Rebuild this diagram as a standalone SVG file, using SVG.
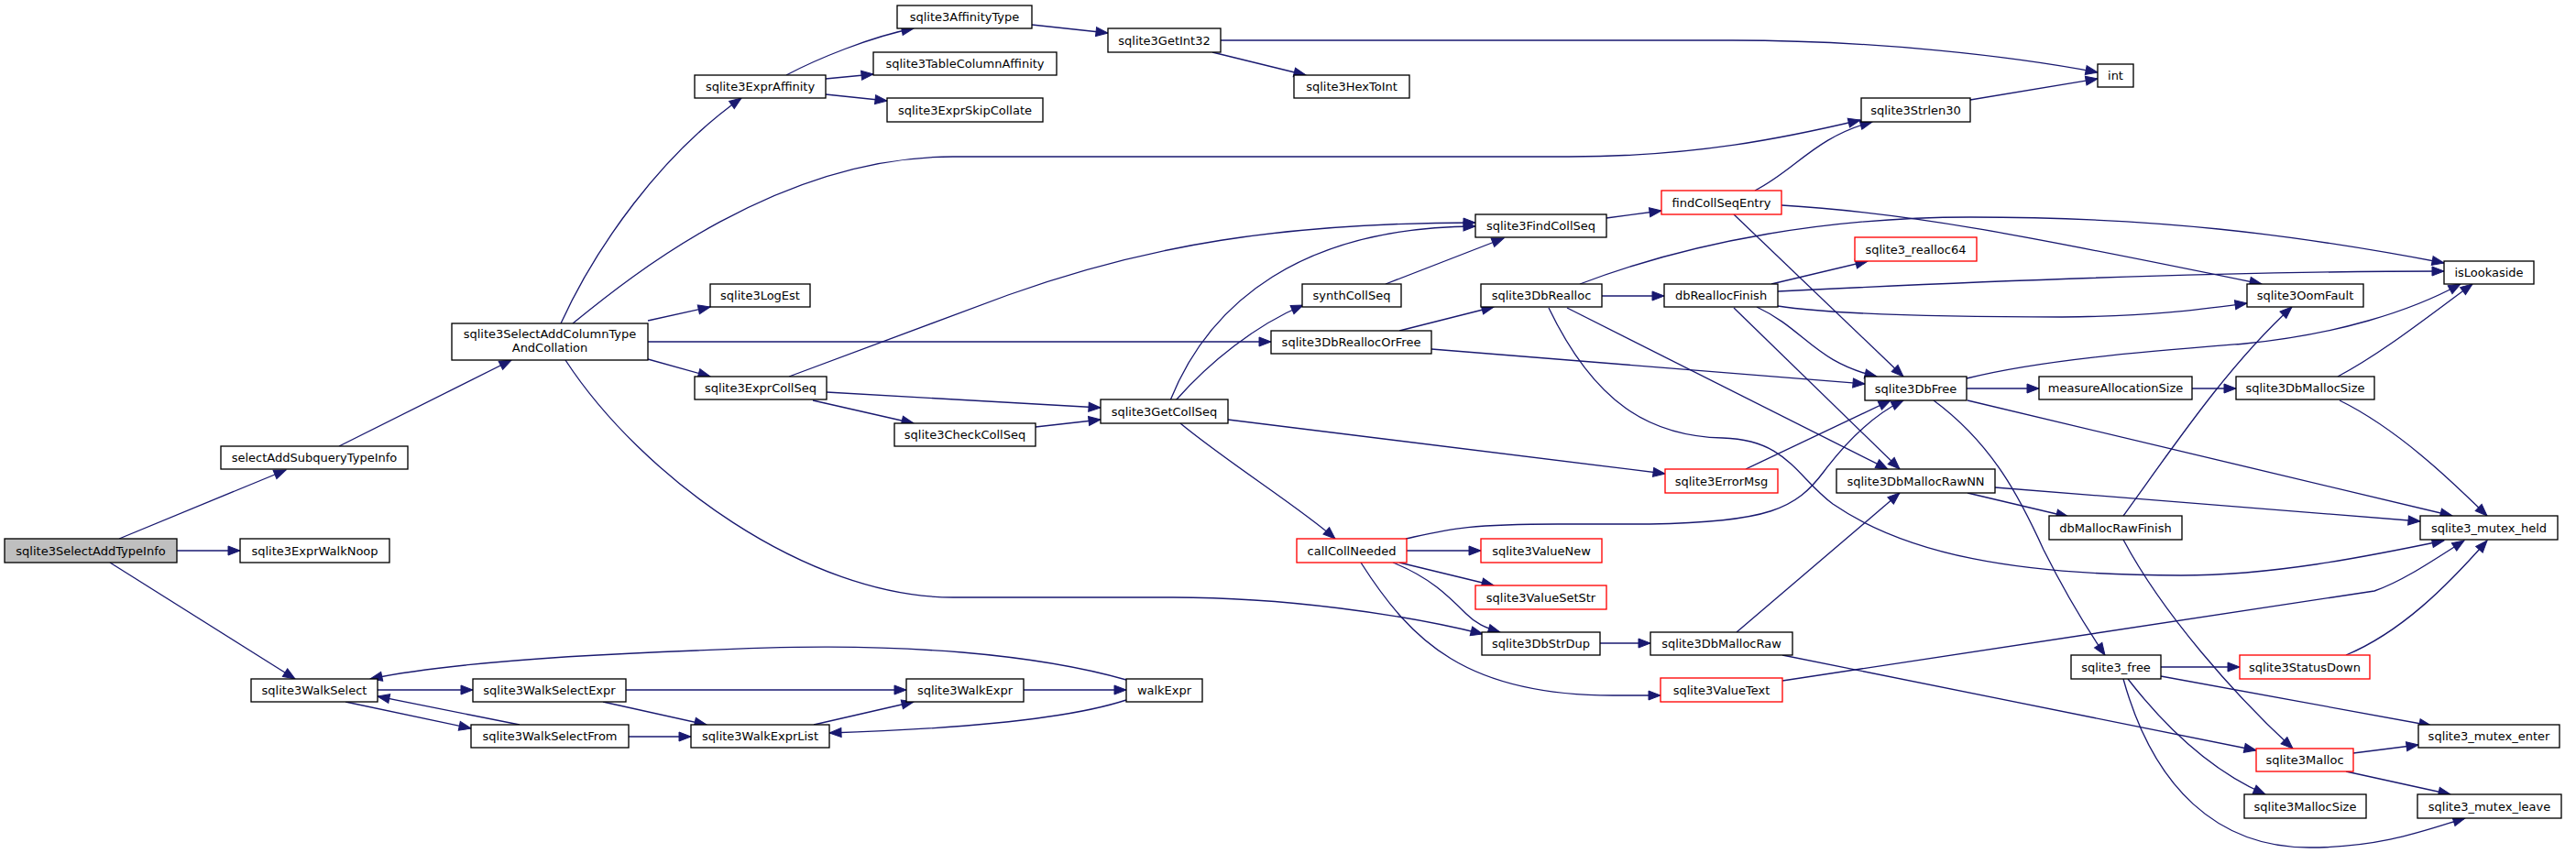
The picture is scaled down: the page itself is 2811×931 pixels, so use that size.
<svg xmlns="http://www.w3.org/2000/svg" width="2811" height="931" viewBox="0 0 2811 931">
<defs>
<marker id="a" markerUnits="userSpaceOnUse" markerWidth="16" markerHeight="12" refX="13" refY="5" orient="auto" overflow="visible"><path d="M0,0L13,5L0,10z" fill="#191970" stroke="#191970" stroke-width="1"/></marker>
<style>
.nd rect{fill:#fff;stroke:#000;stroke-width:1.33}
.rd rect{fill:#fff;stroke:#f00;stroke-width:1.33}
.root rect{fill:#bfbfbf;stroke:#000;stroke-width:1.33}
text{font-family:'DejaVu Sans',sans-serif;font-size:13px;text-anchor:middle;fill:#000}
#edges path{fill:none;stroke:#191970;stroke-width:1.33;marker-end:url(#a)}
</style>
</defs>
<rect width="2811" height="931" fill="#fff"/>
<g id="edges">
<path d="M130,588L312,513"/>
<path d="M193,601L262,601"/>
<path d="M120,614L322,741"/>
<path d="M370,487L558,393"/>
<path d="M612,353C650,270 720,170 809,107"/>
<path d="M625,353C690,300 850,171 1040,171L1712,171C1850,171 1950,150 2030,131"/>
<path d="M707,350L775,335"/>
<path d="M707,373L1387,373"/>
<path d="M707,392L775,411"/>
<path d="M617,393C700,520 880,652 1040,652L1280,652C1400,652 1530,670 1618,692"/>
<path d="M858,82C890,65 950,40 997,31"/>
<path d="M901,86L953,81"/>
<path d="M901,103L968,110"/>
<path d="M1126,27L1209,36"/>
<path d="M1332,44L1890,44C2050,44 2200,62 2289,79"/>
<path d="M1323,57L1425,82"/>
<path d="M2150,109L2289,86"/>
<path d="M861,411L1100,322C1250,268 1400,243 1610,243"/>
<path d="M902,428L1201,445"/>
<path d="M887,437L997,462"/>
<path d="M1130,466L1201,458"/>
<path d="M1277,437C1320,330 1420,248 1610,247"/>
<path d="M1283,437C1320,395 1370,355 1422,333"/>
<path d="M1340,458L1817,517"/>
<path d="M1288,462C1340,505 1420,555 1457,588"/>
<path d="M1512,310L1641,260"/>
<path d="M1753,238L1813,230"/>
<path d="M1915,208C1960,185 1980,150 2043,133"/>
<path d="M1944,224C2080,232 2200,255 2468,310"/>
<path d="M1892,234L2077,411"/>
<path d="M1527,361L1630,335"/>
<path d="M1562,381L2035,419"/>
<path d="M1748,323L1816,323"/>
<path d="M1724,310C1850,262 2000,237 2150,237C2350,237 2500,255 2667,287"/>
<path d="M1710,336L2060,512"/>
<path d="M1690,336C1740,440 1800,476 1880,478C1950,480 1960,520 2000,550C2080,605 2200,628 2380,628C2480,628 2580,608 2667,590"/>
<path d="M1933,310L2038,285"/>
<path d="M1940,318C2100,310 2400,296 2667,296"/>
<path d="M1940,334C2000,343 2100,346 2250,346C2350,345 2400,338 2452,331"/>
<path d="M1917,335C1970,360 1980,395 2048,411"/>
<path d="M1892,336L2073,512"/>
<path d="M1534,588C1580,578 1600,572 1700,572L1800,572C1930,570 1960,555 1990,515C2020,475 2050,450 2077,437"/>
<path d="M1535,601L1616,601"/>
<path d="M1527,614L1630,639"/>
<path d="M1520,614C1560,630 1580,650 1600,670C1610,680 1620,685 1637,690"/>
<path d="M1485,614C1540,700 1600,759 1760,759L1812,759"/>
<path d="M1905,512L2063,437"/>
<path d="M1746,702L1801,702"/>
<path d="M1895,690L2073,538"/>
<path d="M1945,715L2462,819"/>
<path d="M1945,743L2591,645C2620,635 2650,615 2689,590"/>
<path d="M2147,538L2257,564"/>
<path d="M2177,532L2641,569"/>
<path d="M2317,563C2370,490 2430,400 2501,335"/>
<path d="M2317,589C2360,670 2440,760 2502,817"/>
<path d="M2146,424L2225,424"/>
<path d="M2146,413C2230,392 2350,383 2450,375C2550,365 2630,340 2685,310"/>
<path d="M2110,437C2175,485 2205,545 2230,600C2255,650 2280,690 2297,715"/>
<path d="M2147,437L2676,563"/>
<path d="M2392,424L2440,424"/>
<path d="M2551,411C2600,385 2650,345 2698,310"/>
<path d="M2553,437C2620,470 2680,530 2714,563"/>
<path d="M2358,728L2444,728"/>
<path d="M2358,738L2653,792"/>
<path d="M2322,741C2360,790 2410,840 2472,867"/>
<path d="M2317,741C2350,860 2420,925 2520,925C2600,925 2650,905 2690,893"/>
<path d="M2560,715C2620,690 2670,640 2714,590"/>
<path d="M2568,822L2639,813"/>
<path d="M2560,842L2674,867"/>
<path d="M412,753L516,753"/>
<path d="M377,766L514,795"/>
<path d="M567,791L412,760"/>
<path d="M683,753L989,753"/>
<path d="M658,766L771,791"/>
<path d="M686,804L754,804"/>
<path d="M888,791L997,766"/>
<path d="M1117,753L1229,753"/>
<path d="M1229,742C1180,728 1120,718 1050,712C950,704 860,705 760,710C600,716 480,725 404,741"/>
<path d="M1229,764C1150,790 1000,797 905,800"/>
</g>
<g id="n_sqlite3SelectAddTypeInfo" class="root"><rect x="5" y="588" width="188" height="26"/><text x="99" y="605.5">sqlite3SelectAddTypeInfo</text></g>
<g id="n_selectAddSubqueryTypeInfo" class="nd"><rect x="241" y="487" width="204" height="25"/><text x="343" y="504">selectAddSubqueryTypeInfo</text></g>
<g id="n_sqlite3ExprWalkNoop" class="nd"><rect x="262" y="588" width="163" height="26"/><text x="343.5" y="605.5">sqlite3ExprWalkNoop</text></g>
<g id="n_sqlite3WalkSelect" class="nd"><rect x="274" y="741" width="138" height="25"/><text x="343" y="758">sqlite3WalkSelect</text></g>
<g id="n_sqlite3SelectAddColumnTypeAndCollation" class="nd"><rect x="493" y="353" width="214" height="40"/><text x="600" y="368.5">sqlite3SelectAddColumnType</text><text x="600" y="383.5">AndCollation</text></g>
<g id="n_sqlite3WalkSelectExpr" class="nd"><rect x="516" y="741" width="167" height="25"/><text x="599.5" y="758">sqlite3WalkSelectExpr</text></g>
<g id="n_sqlite3WalkSelectFrom" class="nd"><rect x="514" y="791" width="172" height="25"/><text x="600" y="808">sqlite3WalkSelectFrom</text></g>
<g id="n_sqlite3ExprAffinity" class="nd"><rect x="758" y="82" width="143" height="25"/><text x="829.5" y="99">sqlite3ExprAffinity</text></g>
<g id="n_sqlite3LogEst" class="nd"><rect x="775" y="310" width="109" height="25"/><text x="829.5" y="327">sqlite3LogEst</text></g>
<g id="n_sqlite3ExprCollSeq" class="nd"><rect x="758" y="411" width="144" height="25"/><text x="830" y="428">sqlite3ExprCollSeq</text></g>
<g id="n_sqlite3WalkExprList" class="nd"><rect x="754" y="791" width="151" height="25"/><text x="829.5" y="808">sqlite3WalkExprList</text></g>
<g id="n_sqlite3AffinityType" class="nd"><rect x="979" y="6" width="147" height="25"/><text x="1052.5" y="23">sqlite3AffinityType</text></g>
<g id="n_sqlite3TableColumnAffinity" class="nd"><rect x="953" y="57" width="200" height="25"/><text x="1053" y="74">sqlite3TableColumnAffinity</text></g>
<g id="n_sqlite3ExprSkipCollate" class="nd"><rect x="968" y="107" width="170" height="26"/><text x="1053" y="124.5">sqlite3ExprSkipCollate</text></g>
<g id="n_sqlite3CheckCollSeq" class="nd"><rect x="976" y="462" width="154" height="25"/><text x="1053" y="479">sqlite3CheckCollSeq</text></g>
<g id="n_sqlite3WalkExpr" class="nd"><rect x="989" y="741" width="128" height="25"/><text x="1053" y="758">sqlite3WalkExpr</text></g>
<g id="n_sqlite3GetInt32" class="nd"><rect x="1209" y="31" width="123" height="26"/><text x="1270.5" y="48.5">sqlite3GetInt32</text></g>
<g id="n_sqlite3GetCollSeq" class="nd"><rect x="1201" y="436" width="139" height="26"/><text x="1270.5" y="453.5">sqlite3GetCollSeq</text></g>
<g id="n_walkExpr" class="nd"><rect x="1229" y="741" width="83" height="25"/><text x="1270.5" y="758">walkExpr</text></g>
<g id="n_sqlite3DbReallocOrFree" class="nd"><rect x="1387" y="361" width="175" height="25"/><text x="1474.5" y="378">sqlite3DbReallocOrFree</text></g>
<g id="n_sqlite3HexToInt" class="nd"><rect x="1412" y="82" width="126" height="25"/><text x="1475" y="99">sqlite3HexToInt</text></g>
<g id="n_synthCollSeq" class="nd"><rect x="1421" y="310" width="108" height="25"/><text x="1475" y="327">synthCollSeq</text></g>
<g id="n_callCollNeeded" class="rd"><rect x="1415" y="588" width="120" height="26"/><text x="1475" y="605.5">callCollNeeded</text></g>
<g id="n_sqlite3FindCollSeq" class="nd"><rect x="1610" y="234" width="143" height="25"/><text x="1681.5" y="251">sqlite3FindCollSeq</text></g>
<g id="n_sqlite3DbRealloc" class="nd"><rect x="1616" y="310" width="132" height="25"/><text x="1682" y="327">sqlite3DbRealloc</text></g>
<g id="n_sqlite3ValueNew" class="rd"><rect x="1616" y="588" width="132" height="26"/><text x="1682" y="605.5">sqlite3ValueNew</text></g>
<g id="n_sqlite3ValueSetStr" class="rd"><rect x="1610" y="639" width="143" height="26"/><text x="1681.5" y="656.5">sqlite3ValueSetStr</text></g>
<g id="n_sqlite3DbStrDup" class="nd"><rect x="1617" y="690" width="129" height="25"/><text x="1681.5" y="707">sqlite3DbStrDup</text></g>
<g id="n_findCollSeqEntry" class="rd"><rect x="1813" y="208" width="131" height="26"/><text x="1878.5" y="225.5">findCollSeqEntry</text></g>
<g id="n_dbReallocFinish" class="nd"><rect x="1816" y="310" width="124" height="25"/><text x="1878" y="327">dbReallocFinish</text></g>
<g id="n_sqlite3ErrorMsg" class="rd"><rect x="1817" y="512" width="123" height="26"/><text x="1878.5" y="529.5">sqlite3ErrorMsg</text></g>
<g id="n_sqlite3DbMallocRaw" class="nd"><rect x="1801" y="690" width="155" height="25"/><text x="1878.5" y="707">sqlite3DbMallocRaw</text></g>
<g id="n_sqlite3ValueText" class="rd"><rect x="1812" y="740" width="133" height="26"/><text x="1878.5" y="757.5">sqlite3ValueText</text></g>
<g id="n_sqlite3Strlen30" class="nd"><rect x="2031" y="107" width="119" height="26"/><text x="2090.5" y="124.5">sqlite3Strlen30</text></g>
<g id="n_sqlite3_realloc64" class="rd"><rect x="2024" y="259" width="133" height="26"/><text x="2090.5" y="276.5">sqlite3_realloc64</text></g>
<g id="n_sqlite3DbFree" class="nd"><rect x="2035" y="411" width="111" height="26"/><text x="2090.5" y="428.5">sqlite3DbFree</text></g>
<g id="n_sqlite3DbMallocRawNN" class="nd"><rect x="2004" y="512" width="173" height="26"/><text x="2090.5" y="529.5">sqlite3DbMallocRawNN</text></g>
<g id="n_int" class="nd"><rect x="2289" y="70" width="39" height="25"/><text x="2308.5" y="87">int</text></g>
<g id="n_measureAllocationSize" class="nd"><rect x="2225" y="411" width="167" height="25"/><text x="2308.5" y="428">measureAllocationSize</text></g>
<g id="n_dbMallocRawFinish" class="nd"><rect x="2236" y="563" width="145" height="26"/><text x="2308.5" y="580.5">dbMallocRawFinish</text></g>
<g id="n_sqlite3_free" class="nd"><rect x="2260" y="715" width="98" height="26"/><text x="2309" y="732.5">sqlite3_free</text></g>
<g id="n_sqlite3OomFault" class="nd"><rect x="2452" y="310" width="127" height="25"/><text x="2515.5" y="327">sqlite3OomFault</text></g>
<g id="n_sqlite3DbMallocSize" class="nd"><rect x="2440" y="411" width="151" height="25"/><text x="2515.5" y="428">sqlite3DbMallocSize</text></g>
<g id="n_sqlite3StatusDown" class="rd"><rect x="2444" y="715" width="142" height="26"/><text x="2515" y="732.5">sqlite3StatusDown</text></g>
<g id="n_sqlite3Malloc" class="rd"><rect x="2462" y="817" width="106" height="25"/><text x="2515" y="834">sqlite3Malloc</text></g>
<g id="n_sqlite3MallocSize" class="nd"><rect x="2449" y="867" width="133" height="26"/><text x="2515.5" y="884.5">sqlite3MallocSize</text></g>
<g id="n_isLookaside" class="nd"><rect x="2667" y="285" width="98" height="25"/><text x="2716" y="302">isLookaside</text></g>
<g id="n_sqlite3_mutex_held" class="nd"><rect x="2641" y="563" width="150" height="26"/><text x="2716" y="580.5">sqlite3_mutex_held</text></g>
<g id="n_sqlite3_mutex_enter" class="nd"><rect x="2639" y="791" width="154" height="25"/><text x="2716" y="808">sqlite3_mutex_enter</text></g>
<g id="n_sqlite3_mutex_leave" class="nd"><rect x="2638" y="867" width="157" height="26"/><text x="2716.5" y="884.5">sqlite3_mutex_leave</text></g>
</svg>
